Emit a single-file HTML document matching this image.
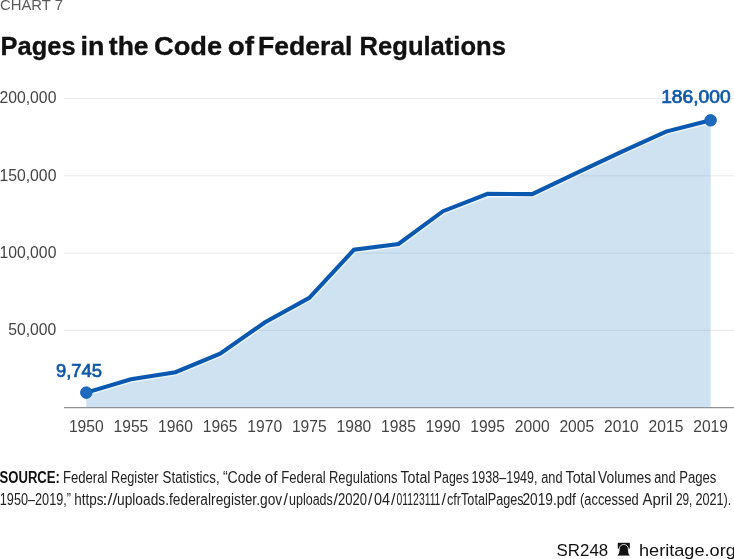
<!DOCTYPE html>
<html lang="en"><head><meta charset="utf-8"><title>Pages in the Code of Federal Regulations</title>
<style>
html,body{margin:0;padding:0;background:#fff;}
body{width:734px;height:559px;overflow:hidden;position:relative;}
svg{position:absolute;left:0;top:0;display:block;font-family:"Liberation Sans",sans-serif;}
</style></head><body>
<svg width="734" height="559" viewBox="0 0 734 559">
<rect width="734" height="559" fill="#fff"/>
<text x="0" y="9.8" font-size="14.6" fill="#5a5a5a" textLength="63" lengthAdjust="spacingAndGlyphs">CHART 7</text>
<text y="54.7" font-size="26.6" font-weight="bold" fill="#111" stroke="#111" stroke-width="0.35"><tspan x="0.6" textLength="75.0" lengthAdjust="spacingAndGlyphs">Pages</tspan> <tspan x="80.5" textLength="23.9" lengthAdjust="spacingAndGlyphs">in</tspan> <tspan x="108.8" textLength="39.8" lengthAdjust="spacingAndGlyphs">the</tspan> <tspan x="154.0" textLength="68.2" lengthAdjust="spacingAndGlyphs">Code</tspan> <tspan x="227.8" textLength="26.3" lengthAdjust="spacingAndGlyphs">of</tspan> <tspan x="258.1" textLength="94.4" lengthAdjust="spacingAndGlyphs">Federal</tspan> <tspan x="359.6" textLength="146.3" lengthAdjust="spacingAndGlyphs">Regulations</tspan></text>
<line x1="64" x2="734" y1="98.5" y2="98.5" stroke="#e8e8e8" stroke-width="1"/>
<line x1="64" x2="734" y1="175.8" y2="175.8" stroke="#e8e8e8" stroke-width="1"/>
<line x1="64" x2="734" y1="253.1" y2="253.1" stroke="#e8e8e8" stroke-width="1"/>
<line x1="64" x2="734" y1="330.4" y2="330.4" stroke="#e8e8e8" stroke-width="1"/>
<clipPath id="a"><path d="M86.3,392.6 L130.9,379.2 L175.5,372.2 L220.1,353.6 L264.7,322.5 L309.3,297.8 L353.9,249.8 L398.5,244.0 L443.0,211.2 L487.6,193.9 L532.2,194.1 L576.8,172.8 L621.4,151.8 L666.0,131.6 L710.6,120.3 L710.6,407.6 L86.3,407.6 Z"/></clipPath>
<path d="M86.3,392.6 L130.9,379.2 L175.5,372.2 L220.1,353.6 L264.7,322.5 L309.3,297.8 L353.9,249.8 L398.5,244.0 L443.0,211.2 L487.6,193.9 L532.2,194.1 L576.8,172.8 L621.4,151.8 L666.0,131.6 L710.6,120.3 L710.6,407.6 L86.3,407.6 Z" fill="#cfe2f1"/>
<g clip-path="url(#a)">
<line x1="64" x2="734" y1="98.5" y2="98.5" stroke="#8aa0b8" stroke-opacity="0.22" stroke-width="1"/>
<line x1="64" x2="734" y1="175.8" y2="175.8" stroke="#8aa0b8" stroke-opacity="0.22" stroke-width="1"/>
<line x1="64" x2="734" y1="253.1" y2="253.1" stroke="#8aa0b8" stroke-opacity="0.22" stroke-width="1"/>
<line x1="64" x2="734" y1="330.4" y2="330.4" stroke="#8aa0b8" stroke-opacity="0.22" stroke-width="1"/>
</g>
<line x1="64" x2="734" y1="407.6" y2="407.6" stroke="#909296" stroke-width="1.3"/>
<path d="M86.3,392.6 L130.9,379.2 L175.5,372.2 L220.1,353.6 L264.7,322.5 L309.3,297.8 L353.9,249.8 L398.5,244.0 L443.0,211.2 L487.6,193.9 L532.2,194.1 L576.8,172.8 L621.4,151.8 L666.0,131.6 L710.6,120.3" fill="none" stroke="#fff" stroke-opacity="0.65" stroke-width="7.0" stroke-linejoin="miter"/>
<path d="M86.3,392.6 L130.9,379.2 L175.5,372.2 L220.1,353.6 L264.7,322.5 L309.3,297.8 L353.9,249.8 L398.5,244.0 L443.0,211.2 L487.6,193.9 L532.2,194.1 L576.8,172.8 L621.4,151.8 L666.0,131.6 L710.6,120.3" fill="none" stroke="#0a58b0" stroke-width="4.1" stroke-linejoin="miter" stroke-linecap="butt"/>
<circle cx="86.3" cy="392.6" r="5.8" fill="#1e6bbd" stroke="#0a58b0" stroke-width="0.8"/>
<circle cx="710.6" cy="120.3" r="5.8" fill="#1e6bbd" stroke="#0a58b0" stroke-width="0.8"/>
<text x="-0.6" y="103.4" font-size="16.4" fill="#444" textLength="57.0" lengthAdjust="spacingAndGlyphs">200,000</text>
<text x="-0.6" y="180.7" font-size="16.4" fill="#444" textLength="57.0" lengthAdjust="spacingAndGlyphs">150,000</text>
<text x="-0.6" y="258.0" font-size="16.4" fill="#444" textLength="57.0" lengthAdjust="spacingAndGlyphs">100,000</text>
<text x="8.2" y="335.3" font-size="16.4" fill="#444" textLength="48.2" lengthAdjust="spacingAndGlyphs">50,000</text>
<text x="68.9" y="432.1" font-size="16.2" fill="#444" textLength="34.8" lengthAdjust="spacingAndGlyphs">1950</text>
<text x="113.5" y="432.1" font-size="16.2" fill="#444" textLength="34.8" lengthAdjust="spacingAndGlyphs">1955</text>
<text x="158.1" y="432.1" font-size="16.2" fill="#444" textLength="34.8" lengthAdjust="spacingAndGlyphs">1960</text>
<text x="202.7" y="432.1" font-size="16.2" fill="#444" textLength="34.8" lengthAdjust="spacingAndGlyphs">1965</text>
<text x="247.3" y="432.1" font-size="16.2" fill="#444" textLength="34.8" lengthAdjust="spacingAndGlyphs">1970</text>
<text x="291.9" y="432.1" font-size="16.2" fill="#444" textLength="34.8" lengthAdjust="spacingAndGlyphs">1975</text>
<text x="336.5" y="432.1" font-size="16.2" fill="#444" textLength="34.8" lengthAdjust="spacingAndGlyphs">1980</text>
<text x="381.1" y="432.1" font-size="16.2" fill="#444" textLength="34.8" lengthAdjust="spacingAndGlyphs">1985</text>
<text x="425.6" y="432.1" font-size="16.2" fill="#444" textLength="34.8" lengthAdjust="spacingAndGlyphs">1990</text>
<text x="470.2" y="432.1" font-size="16.2" fill="#444" textLength="34.8" lengthAdjust="spacingAndGlyphs">1995</text>
<text x="514.8" y="432.1" font-size="16.2" fill="#444" textLength="34.8" lengthAdjust="spacingAndGlyphs">2000</text>
<text x="559.4" y="432.1" font-size="16.2" fill="#444" textLength="34.8" lengthAdjust="spacingAndGlyphs">2005</text>
<text x="604.0" y="432.1" font-size="16.2" fill="#444" textLength="34.8" lengthAdjust="spacingAndGlyphs">2010</text>
<text x="648.6" y="432.1" font-size="16.2" fill="#444" textLength="34.8" lengthAdjust="spacingAndGlyphs">2015</text>
<text x="693.2" y="432.1" font-size="16.2" fill="#444" textLength="34.8" lengthAdjust="spacingAndGlyphs">2019</text>
<text x="56.0" y="376.7" font-size="18" fill="#0e57ab" stroke="#0e57ab" stroke-width="0.7" textLength="46.0" lengthAdjust="spacingAndGlyphs">9,745</text>
<text x="661.2" y="102.8" font-size="17.8" fill="#0e57ab" stroke="#0e57ab" stroke-width="0.7" textLength="69.4" lengthAdjust="spacingAndGlyphs">186,000</text>
<text y="482.6" font-size="15.8" fill="#222"><tspan x="-0.5" textLength="60.4" lengthAdjust="spacingAndGlyphs" font-weight="bold" fill="#111">SOURCE:</tspan> <tspan x="62.9" textLength="44.6" lengthAdjust="spacingAndGlyphs">Federal</tspan> <tspan x="111.0" textLength="47.4" lengthAdjust="spacingAndGlyphs">Register</tspan> <tspan x="162.6" textLength="57.0" lengthAdjust="spacingAndGlyphs">Statistics,</tspan> <tspan x="222.9" textLength="38.4" lengthAdjust="spacingAndGlyphs">“Code</tspan> <tspan x="264.8" textLength="12.8" lengthAdjust="spacingAndGlyphs">of</tspan> <tspan x="281.3" textLength="44.4" lengthAdjust="spacingAndGlyphs">Federal</tspan> <tspan x="329.0" textLength="68.5" lengthAdjust="spacingAndGlyphs">Regulations</tspan> <tspan x="400.5" textLength="30.0" lengthAdjust="spacingAndGlyphs">Total</tspan> <tspan x="433.8" textLength="35.1" lengthAdjust="spacingAndGlyphs">Pages</tspan> <tspan x="471.4" textLength="66.1" lengthAdjust="spacingAndGlyphs">1938–1949,</tspan> <tspan x="541.2" textLength="21.3" lengthAdjust="spacingAndGlyphs">and</tspan> <tspan x="565.5" textLength="30.2" lengthAdjust="spacingAndGlyphs">Total</tspan> <tspan x="598.0" textLength="53.2" lengthAdjust="spacingAndGlyphs">Volumes</tspan> <tspan x="654.2" textLength="21.3" lengthAdjust="spacingAndGlyphs">and</tspan> <tspan x="679.2" textLength="37.2" lengthAdjust="spacingAndGlyphs">Pages</tspan></text>
<text y="505.4" font-size="15.8" fill="#222"><tspan x="-0.2" textLength="71.2" lengthAdjust="spacingAndGlyphs">1950–2019,”</tspan> <tspan x="74.2" textLength="29.2" lengthAdjust="spacingAndGlyphs">https</tspan><tspan x="102.6" textLength="14.8" lengthAdjust="spacingAndGlyphs">://</tspan><tspan x="117.0" textLength="165.2" lengthAdjust="spacingAndGlyphs">uploads.federalregister.gov</tspan><tspan x="283.6">/</tspan><tspan x="289.0" textLength="43.8" lengthAdjust="spacingAndGlyphs">uploads</tspan><tspan x="333.5">/</tspan><tspan x="337.9" textLength="29.1" lengthAdjust="spacingAndGlyphs">2020</tspan><tspan x="368.1">/</tspan><tspan x="374.0" textLength="16.0" lengthAdjust="spacingAndGlyphs">04</tspan><tspan x="391.1">/</tspan><tspan x="396.6" textLength="43.8" lengthAdjust="spacingAndGlyphs">01123111</tspan><tspan x="441.4">/</tspan><tspan x="447.0" textLength="76.6" lengthAdjust="spacingAndGlyphs">cfrTotalPages</tspan><tspan x="522.4" textLength="53.5" lengthAdjust="spacingAndGlyphs">2019.pdf</tspan> <tspan x="580.0" textLength="58.8" lengthAdjust="spacingAndGlyphs">(accessed</tspan> <tspan x="642.6" textLength="29.7" lengthAdjust="spacingAndGlyphs">April</tspan> <tspan x="675.9" textLength="16.5" lengthAdjust="spacingAndGlyphs">29,</tspan> <tspan x="695.4" textLength="35.9" lengthAdjust="spacingAndGlyphs">2021).</tspan></text>
<text x="556.6" y="555.6" font-size="17.2" fill="#111" textLength="51.6" lengthAdjust="spacingAndGlyphs">SR248</text>
<text x="639.0" y="555.6" font-size="17.2" fill="#111" textLength="96.8" lengthAdjust="spacingAndGlyphs">heritage.org</text>
<g fill="#111"><rect x="617.8" y="542.8" width="12" height="5.8"/><path d="M617.2,556 L630,556 L630,555.2 C628.9,554.4 628.5,552.5 628.4,549.5 C628.3,546.2 626.6,544.5 623.8,544.5 C621,544.5 619.3,546.2 619.2,549.5 C619.1,552.5 618.5,554.4 617.2,555.2 Z" stroke="#fff" stroke-width="0.8"/></g>
</svg></body></html>
